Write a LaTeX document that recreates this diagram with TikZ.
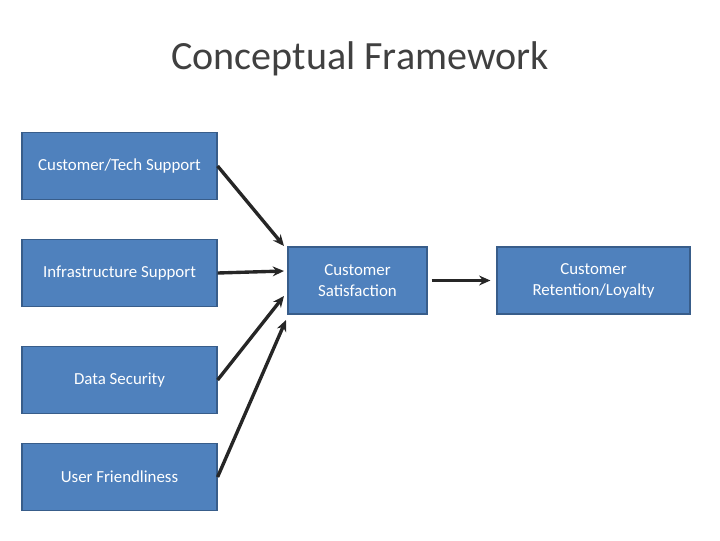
\documentclass[tikz,border=0pt]{standalone}
\usepackage{fontspec}
\setmainfont{Carlito}
\usetikzlibrary{arrows.meta,positioning,calc}
\definecolor{BoxBlue}{RGB}{79,129,189}
\definecolor{BoxEdge}{RGB}{56,93,138}
\definecolor{Title}{RGB}{64,64,64}

\begin{document}
\begin{tikzpicture}[x=0.025cm,y=-0.025cm]
        \tikzset{
          factor/.style={draw=BoxEdge,line width=0.8pt,fill=BoxBlue,text=white,
            minimum height=1.675cm,align=center,font=\fontsize{12}{15}\selectfont},
          link/.style={-{Stealth[length=8pt,width=7pt]},line width=2.4pt,black!85}
        }
        \useasboundingbox (0,0) rectangle (720,540);
        \node[text=Title,font=\fontsize{28.5}{32}\selectfont] (title) at (360,59) {Conceptual Framework};
        \foreach \name/\txt/\y in {
          tech/{Customer/Tech Support}/166,
          infra/{Infrastructure Support}/273,
          data/{Data Security}/380,
          user/{User Friendliness}/477}
        {
          \node[factor,minimum width=4.875cm] (\name) at (119.5,\y) {\txt};
        }
        \node[factor,minimum width=3.475cm] (sat) at (357.5,280.5)
          {Customer\\Satisfaction};
        \node[factor,minimum width=4.825cm] (ret) at (593.5,280.5)
          {Customer\\Retention/Loyalty};
        \coordinate (in1) at (284,246);
        \coordinate (in2) at (284,271);
        \coordinate (in3) at (284,296);
        \coordinate (in4) at (286,320);
        \draw[link] (tech.east) -- (in1);
        \draw[link] (infra.east) -- (in2);
        \draw[link] (data.east) -- (in3);
        \draw[link] (user.east) -- (in4);
        \draw[link] ($(sat.east)+(4,0)$) -- ($(ret.west)+(-6,0)$);
      \end{tikzpicture}
\end{document}
